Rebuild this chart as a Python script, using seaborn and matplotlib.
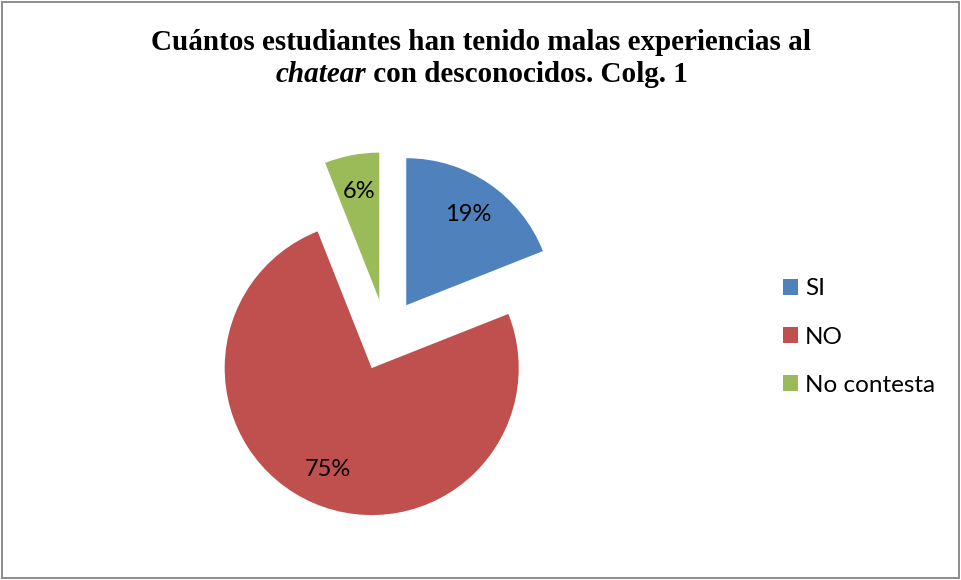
import matplotlib
matplotlib.use("Agg")
import matplotlib.pyplot as plt
from matplotlib.patches import Rectangle
import seaborn as sns

# Survey answers for Colegio 1
categories = ["SI", "NO", "No contesta"]
percentages = [19, 75, 6]
slice_colors = ["#4F81BD", "#C0504D", "#9BBB59"]

title_line1 = "Cuántos estudiantes han tenido malas experiencias al"
title_word_italic = "chatear"
title_line2_rest = " con desconocidos. Colg. 1"

sns.set_theme(style="white")
plt.rcParams["font.family"] = ["Lato", "DejaVu Sans"]
plt.rcParams["text.color"] = "black"
palette = sns.color_palette(slice_colors)

W, H = 961, 580
fig = plt.figure(figsize=(W / 100, H / 100), dpi=100)
fig.patch.set_facecolor("white")

# Outer chart frame
fig.patches.append(Rectangle((2 / W, 2 / H), (W - 4) / W, (H - 4) / H,
                             transform=fig.transFigure, fill=False,
                             edgecolor="#8c8c8c", linewidth=1.4))

# Pie axes: 147 px radius, centred at (386, 335) from the top-left corner
R = 147
cx, cy = 386, H - 335
half = 1.5 * R
ax = fig.add_axes([(cx - half) / W, (cy - half) / H, 2 * half / W, 2 * half / H])
wedges, texts, autotexts = ax.pie(
    percentages, colors=palette, startangle=90, counterclock=False,
    explode=[0.245] * 3, autopct="%d%%", pctdistance=0.75,
    wedgeprops=dict(linewidth=0),
    textprops=dict(fontsize=17, color="black"))
ax.set_xlim(-1.5, 1.5)
ax.set_ylim(-1.5, 1.5)
ax.set_aspect("equal")
ax.axis("off")

# Legend on the right
fig.legend(wedges, categories, loc="center left",
           bbox_to_anchor=(783 / W, (H - 337) / H), frameon=False,
           fontsize=17.5, handlelength=0.62, handleheight=0.62,
           handletextpad=0.28, labelspacing=1.12, borderaxespad=0,
           borderpad=0, labelcolor="black")

# Title, two lines, second line mixes italic and bold
serif = ["Liberation Serif", "DejaVu Serif"]
fs = 21
fig.text(481 / W, 1 - 42 / H, title_line1, ha="center", va="center",
         fontsize=fs, fontweight="bold", family=serif, color="black")
renderer = fig.canvas.get_renderer()
t_it = fig.text(0, 0, title_word_italic, fontsize=fs, fontweight="bold",
                style="italic", family=serif, va="center", color="black")
t_rest = fig.text(0, 0, title_line2_rest, fontsize=fs, fontweight="bold",
                  family=serif, va="center", color="black")
w_it = t_it.get_window_extent(renderer).width
w_rest = t_rest.get_window_extent(renderer).width
x0 = 482 - (w_it + w_rest) / 2
y2 = 1 - 75 / H
t_it.set_position((x0 / W, y2))
t_rest.set_position(((x0 + w_it) / W, y2))

fig.savefig("out.png", dpi=100, facecolor="white")
